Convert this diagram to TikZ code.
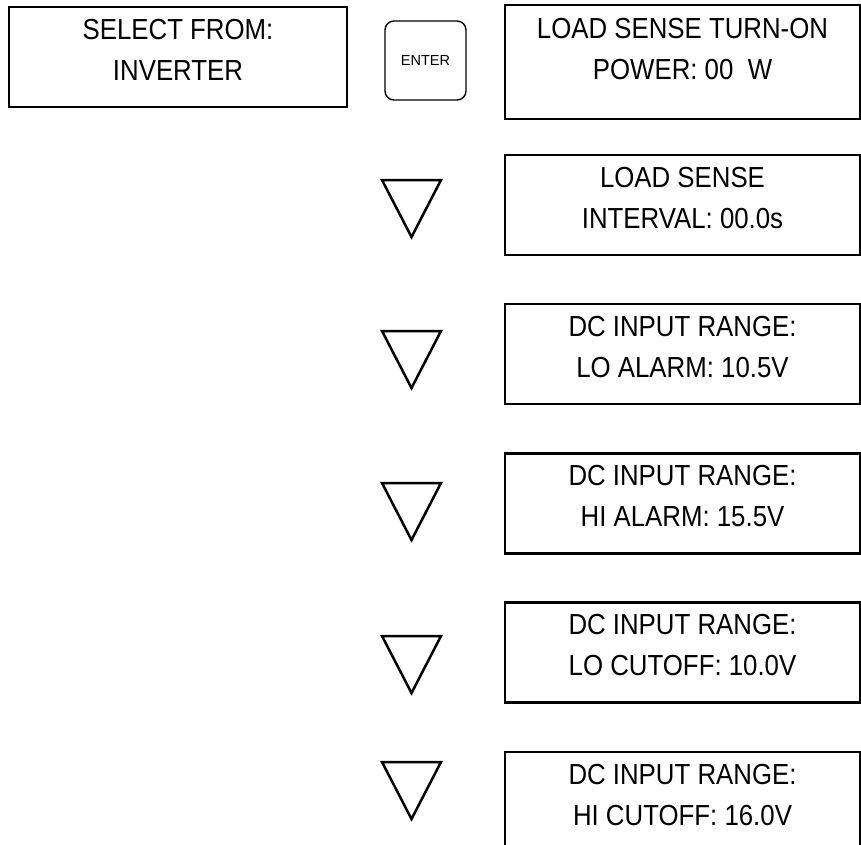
\documentclass[tikz,border=0pt]{standalone}
\usepackage{fontspec}
\setmainfont{Liberation Sans}[FakeStretch=0.89]
\newfontfamily\keyfont{Liberation Sans}
\usepackage{tikz}
\usetikzlibrary{positioning, calc}

\begin{document}
\begin{tikzpicture}[x=1pt, y=-1pt,
    screen/.style={draw, line width=2.5pt, inner sep=0pt, minimum width=355pt, minimum height=100pt},
    screentext/.style={anchor=north, inner sep=0pt, align=center, font=\fontsize{29}{41}\selectfont},
    keybtn/.style={draw, line width=1.4pt, rounded corners=9pt, inner sep=0pt,
                   minimum width=81pt, minimum height=79pt, font=\keyfont\fontsize{14.5}{16}\selectfont}]
    \useasboundingbox (0,0) rectangle (861,844);
    \clip (0,0) rectangle (861,844);

    % Start screen (left)
    \node[screen, minimum width=338pt] (sel) at (178, 57) {};
    \node[screentext] (seltxt) at ([yshift=-13pt]sel.north) {SELECT FROM:\\INVERTER};

    % Enter key
    \node[keybtn] (enter) at (425.5, 60.5) {ENTER};

    % Menu screens (right)
    \node[screen, minimum height=114pt] (b1) at (682.5, 62) {};
    \node[screentext] (t1) at ([yshift=-14pt]b1.north) {LOAD SENSE TURN-ON\\POWER: 00\ \ W};
    \foreach \y/\n/\txt in {205/b2/{LOAD SENSE\\INTERVAL: 00.0s},
                            354/b3/{DC INPUT RANGE:\\LO ALARM: 10.5V},
                            503.5/b4/{DC INPUT RANGE:\\HI ALARM: 15.5V},
                            652.5/b5/{DC INPUT RANGE:\\LO CUTOFF: 10.0V},
                            802/b6/{DC INPUT RANGE:\\HI CUTOFF: 16.0V}} {
        \node[screen] (\n) at (682.5, \y) {};
        \node[screentext] (\n txt) at ([yshift=-13pt]\n.north) {\txt};
    }

    % Down keys
    \foreach \y/\n in {180/d2, 331/d3, 483/d4, 636/d5, 762/d6} {
        \coordinate (\n) at (411.5, \y);
        \draw[line width=2.5pt, line join=miter] ($(\n)+(-29.5,0)$) -- ($(\n)+(29.5,0)$)
            -- ($(\n)+(0,57)$) -- cycle;
    }
\end{tikzpicture}
\end{document}
